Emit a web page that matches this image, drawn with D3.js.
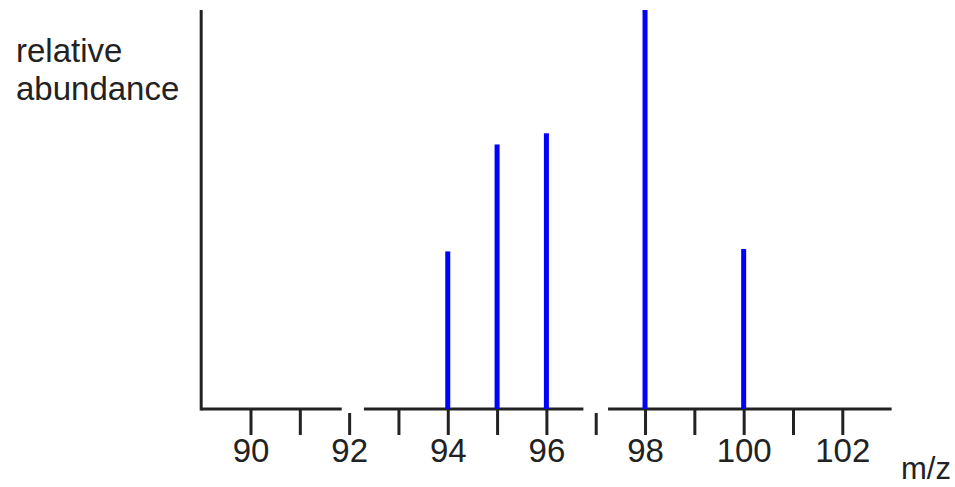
<!DOCTYPE html>
<html>
<head>
<meta charset="utf-8">
<script src="https://cdn.jsdelivr.net/npm/d3@7/dist/d3.min.js"></script>
<style>
  body { margin: 0; background: #fff; }
  text { font-family: "Liberation Sans", Arial, sans-serif; fill: #222; }
</style>
</head>
<body>
<div id="chart"></div>
<script>
// ---------- data ----------
var massValues = [94, 95, 96, 98, 100];
var abundance = [39.5, 66.3, 69.1, 100, 40.1];
var tickValues = [90, 91, 92, 93, 94, 95, 96, 97, 98, 99, 100, 101, 102];
var tickLabels = ["90", "", "92", "", "94", "", "96", "", "98", "", "100", "", "102"];
// pieces of the broken m/z axis
var axisPieces = [[89, 91.85], [92.3, 96.75], [97.25, 103]];

// ---------- sizes ----------
var svgWidth = 955;
var svgHeight = 487;
var baseY = 409;

var svg = d3.select('#chart')
    .append('svg')
    .attr('width', svgWidth)
    .attr('height', svgHeight);

var x = d3.scaleLinear()
    .domain([90, 102])
    .range([250.5, 842.3]);

var y = d3.scaleLinear()
    .domain([0, 100])
    .range([baseY, 10]);

function inGap(v) {
    return !axisPieces.some(p => v >= p[0] && v <= p[1]);
}

// ---------- x axis ----------
var xAxis = d3.axisBottom(x)
    .tickValues(tickValues)
    .tickFormat((d, i) => tickLabels[i])
    .tickSize(26)
    .tickPadding(4);

var xGroup = svg.append('g')
    .attr('transform', `translate(0, ${baseY})`)
    .call(xAxis);

xGroup.select('.domain').remove();
xGroup.selectAll('.tick line')
    .attr('stroke', '#222')
    .attr('stroke-width', 3)
    .attr('y1', d => inGap(d) ? 4 : 0);
xGroup.selectAll('.tick text')
    .style('font-size', '33px')
    .attr('fill', '#222');

svg.append('g')
    .selectAll('line')
    .data(axisPieces)
    .enter()
    .append('line')
    .attr('x1', d => x(d[0]))
    .attr('x2', d => x(d[1]))
    .attr('y1', baseY)
    .attr('y2', baseY)
    .attr('stroke', '#222')
    .attr('stroke-width', 3);

// ---------- y axis ----------
svg.append('line')
    .attr('x1', x(89))
    .attr('x2', x(89))
    .attr('y1', y(0) + 1.5)
    .attr('y2', y(100))
    .attr('stroke', '#222')
    .attr('stroke-width', 3);

// ---------- bars ----------
svg.append('g')
    .selectAll('rect')
    .data(massValues)
    .enter()
    .append('rect')
    .attr('x', d => x(d) - 2.5)
    .attr('width', 5)
    .attr('y', (d, i) => y(abundance[i]))
    .attr('height', (d, i) => y(0) - y(abundance[i]))
    .attr('fill', '#0000ff');

// ---------- labels ----------
svg.append('text')
    .attr('x', 16)
    .attr('y', 62)
    .style('font-size', '33px')
    .text('relative');
svg.append('text')
    .attr('x', 16)
    .attr('y', 100)
    .style('font-size', '33px')
    .text('abundance');
svg.append('text')
    .attr('x', 901)
    .attr('y', 479)
    .style('font-size', '31px')
    .text('m/z');
</script>
</body>
</html>
